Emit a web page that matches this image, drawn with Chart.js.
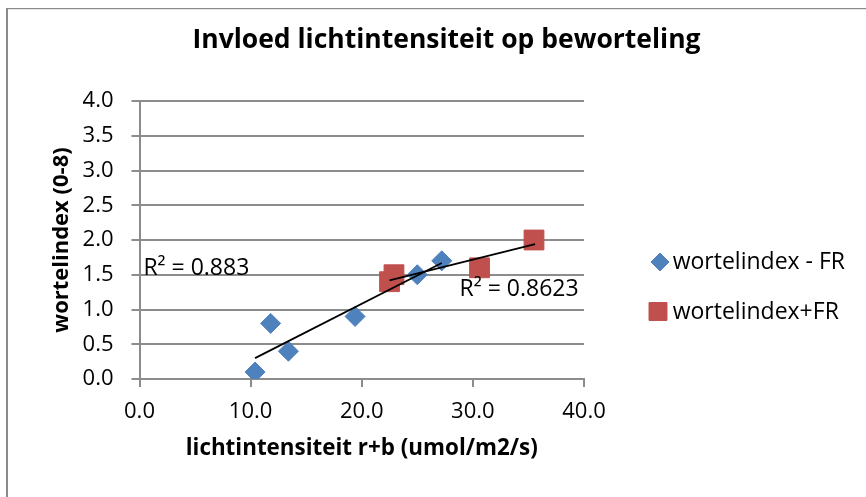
<!DOCTYPE html>
<html>
<head>
<meta charset="utf-8">
<script src="https://cdn.jsdelivr.net/npm/chart.js@4.4.1/dist/chart.umd.min.js"></script>
<style>
html,body{margin:0;padding:0;background:#fff;}
#wrap{width:866px;height:497px;position:relative;}
</style>
</head>
<body>
<div id="wrap"><canvas id="c" width="866" height="497"></canvas></div>
<script>
// ---- data ----
const chartTitle = 'Invloed lichtintensiteit op beworteling';
const xTitle = 'lichtintensiteit r+b (umol/m2/s)';
const yTitle = 'wortelindex (0-8)';
const seriesNames = ['wortelindex - FR', 'wortelindex+FR'];
const lightNoFR = [10.4, 11.8, 13.4, 19.4, 25.0, 27.2];
const rootNoFR  = [0.1, 0.8, 0.4, 0.9, 1.5, 1.7];
const lightFR   = [22.5, 22.9, 30.6, 35.5];
const rootFR    = [1.4, 1.5, 1.6, 2.0];
const trendNoFRx = [10.4, 27.2];
const trendNoFRy = [0.30, 1.67];
const trendFRx   = [22.5, 35.6];
const trendFRy   = [1.42, 1.94];
const r2Texts = ['R\u00B2 = 0.883', 'R\u00B2 = 0.8623'];
const xTickValues = [0, 10, 20, 30, 40];
const yTickValues = [0, 0.5, 1, 1.5, 2, 2.5, 3, 3.5, 4];

const zip = (xs, ys) => xs.map((x, i) => ({x: x, y: ys[i]}));

const FONT = "'Open Sans', sans-serif";
const GRID = '#8c8c8c';
Chart.defaults.font.family = FONT;
Chart.defaults.color = '#000';

const framePlugin = {
  id: 'frame',
  beforeDraw(chart) {
    const c = chart.ctx;
    c.save();
    c.fillStyle = '#fff';
    c.fillRect(0, 0, chart.width, chart.height);
    c.fillStyle = '#8a8a8a';
    c.fillRect(6, 8, 2, chart.height - 8);
    c.fillRect(6, 8, chart.width - 6, 1.2);
    c.restore();
  }
};

const r2Plugin = {
  id: 'r2',
  afterDatasetsDraw(chart) {
    const c = chart.ctx, xs = chart.scales.x, ys = chart.scales.y;
    const anchors = [[0.35, 1.5], [28.8, 1.2]];
    c.save();
    c.font = '23px ' + FONT;
    c.fillStyle = '#000';
    c.textAlign = 'left';
    c.textBaseline = 'alphabetic';
    r2Texts.forEach((t, i) => {
      c.fillText(t, xs.getPixelForValue(anchors[i][0]), ys.getPixelForValue(anchors[i][1]));
    });
    c.restore();
  }
};

const legendPlugin = {
  id: 'sideLegend',
  afterDraw(chart) {
    const c = chart.ctx;
    const area = chart.scales.legendSpace;
    const items = chart.data.datasets.filter(d => d.inLegend);
    const rows = [{mx: 76, my: 262, ty: 268.5}, {mx: 74, my: 311.5, ty: 318.5}];
    c.save();
    items.forEach((d, i) => {
      const r = rows[i];
      c.fillStyle = d.backgroundColor;
      c.strokeStyle = d.borderColor;
      c.lineWidth = 1;
      const px = area.left + r.mx, py = r.my;
      if (Chart.helpers && Chart.helpers.drawPoint) {
        Chart.helpers.drawPoint(c, {pointStyle: d.pointStyle, rotation: 0, radius: d.legendRadius, borderWidth: 1}, px, py);
      } else {
        c.beginPath();
        if (d.pointStyle === 'rectRot') {
          const rr = d.legendRadius;
          c.moveTo(px - rr, py); c.lineTo(px, py - rr); c.lineTo(px + rr, py); c.lineTo(px, py + rr);
        } else {
          const s = d.legendRadius * Math.SQRT1_2;
          c.rect(px - s, py - s, 2 * s, 2 * s);
        }
        c.closePath(); c.fill();
      }
      c.fillStyle = '#000';
      c.font = '23px ' + FONT;
      c.textAlign = 'left';
      c.textBaseline = 'alphabetic';
      c.fillText(d.label, area.left + 88.7, r.ty);
    });
    c.restore();
  }
};

new Chart(document.getElementById('c'), {
  type: 'scatter',
  data: {
    datasets: [
      {label: 'trend ' + seriesNames[0], type: 'line', data: zip(trendNoFRx, trendNoFRy),
       borderColor: '#000', backgroundColor: '#000', borderWidth: 1.75, pointRadius: 0, fill: false, order: 0, tension: 0},
      {label: 'trend ' + seriesNames[1], type: 'line', data: zip(trendFRx, trendFRy),
       borderColor: '#000', backgroundColor: '#000', borderWidth: 1.75, pointRadius: 0, fill: false, order: 0, tension: 0},
      {label: seriesNames[0], data: zip(lightNoFR, rootNoFR), pointStyle: 'rectRot', pointRadius: 10,
       backgroundColor: '#4F81BD', borderColor: '#4F81BD', borderWidth: 1, order: 1, inLegend: true, legendRadius: 9},
      {label: seriesNames[1], data: zip(lightFR, rootFR), pointStyle: 'rect', pointRadius: 14,
       backgroundColor: '#C0504D', borderColor: '#C0504D', borderWidth: 1, order: 2, inLegend: true, legendRadius: 12.7}
    ]
  },
  options: {
    responsive: false,
    animation: false,
    devicePixelRatio: 1,
    layout: {padding: {left: 27, top: 0, right: 0, bottom: 0}},
    plugins: {
      legend: {display: false},
      tooltip: {enabled: false},
      title: {display: true, text: chartTitle, color: '#000',
              font: {size: 26.5, weight: 'bold', family: FONT}, lineHeight: 1.2, padding: {top: 25, bottom: 44.2}}
    },
    scales: {
      x: {
        type: 'linear', position: 'bottom', min: 0, max: 40,
        afterBuildTicks: s => { s.ticks = xTickValues.map(v => ({value: v})); },
        ticks: {callback: v => Number(v).toFixed(1), font: {size: 22}, padding: 12, maxRotation: 0, color: '#000'},
        grid: {display: true, drawOnChartArea: false, drawTicks: true, tickLength: 8, color: GRID, lineWidth: 2},
        border: {display: true, color: GRID, width: 2},
        title: {display: true, text: xTitle, color: '#000', font: {size: 22.4, weight: 'bold'}, padding: {top: 0, bottom: 35}},
        afterFit: s => { s.height = 118; }
      },
      y: {
        type: 'linear', position: 'left', min: 0, max: 4,
        afterBuildTicks: s => { s.ticks = yTickValues.map(v => ({value: v})); },
        ticks: {callback: v => Number(v).toFixed(1), font: {size: 22}, padding: 18, color: '#000'},
        grid: {color: GRID, lineWidth: 2, tickLength: 8},
        border: {display: true, color: GRID, width: 2},
        title: {display: true, text: yTitle, color: '#000', font: {size: 22, weight: 'bold'}, padding: {top: 22, bottom: 0}},
        afterFit: s => { s.width = 112.5; }
      },
      legendSpace: {
        type: 'linear', position: 'right', display: true,
        grid: {display: false}, border: {display: false}, ticks: {display: false},
        afterFit: s => { s.width = 282; }
      }
    }
  },
  plugins: [framePlugin, r2Plugin, legendPlugin]
});
</script>
</body>
</html>
